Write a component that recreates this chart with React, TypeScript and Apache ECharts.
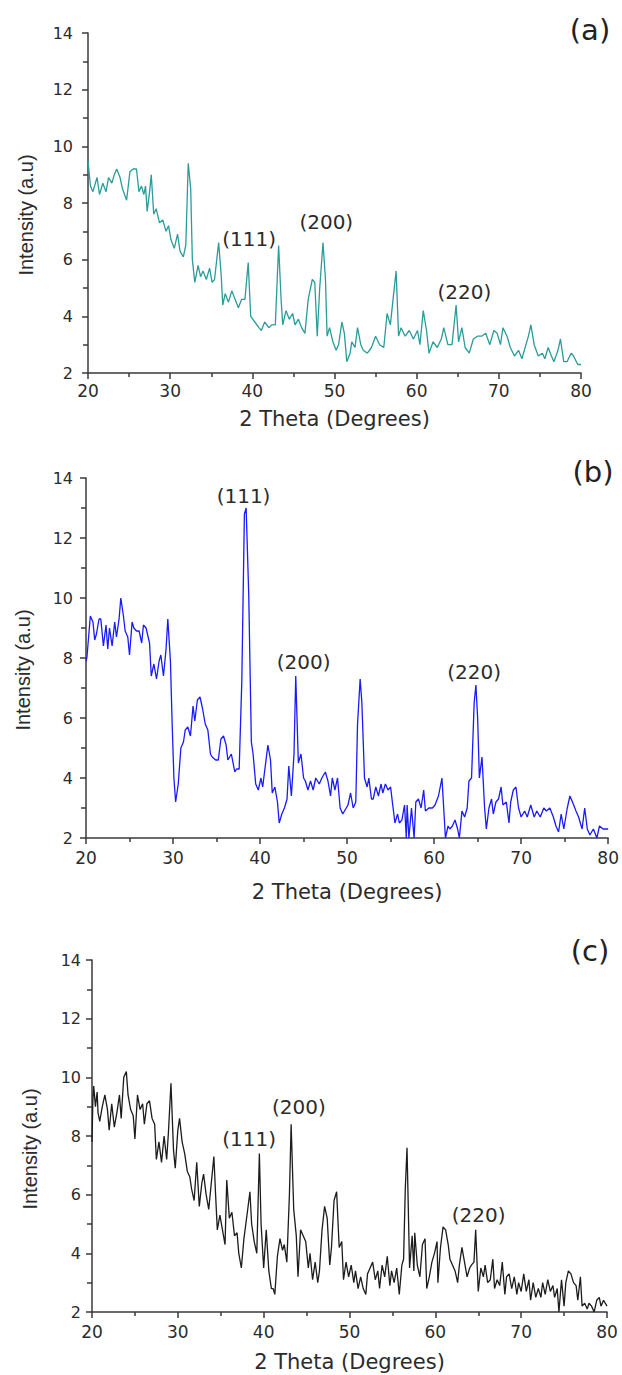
import React, { useEffect, useRef } from "react";
import * as echarts from "echarts";

// ---------- Data ----------
const thetaA = [20.0,20.3,20.6,21.1,21.4,21.8,22.2,22.5,22.9,23.2,23.5,23.9,24.2,24.7,25.1,25.5,25.9,26.2,26.5,26.8,27.0,27.2,27.5,27.7,28.0,28.3,28.7,29.1,29.5,29.8,30.1,30.5,30.9,31.2,31.6,31.9,32.2,32.5,32.7,33.0,33.4,33.7,34.0,34.4,34.8,35.1,35.4,35.9,36.2,36.4,36.7,37.1,37.5,37.9,38.3,38.7,39.1,39.5,39.8,40.3,40.8,41.1,41.5,42.0,42.4,42.8,43.2,43.5,43.7,44.1,44.5,44.9,45.2,45.6,46.0,46.4,46.8,47.3,47.6,47.9,48.2,48.6,48.9,49.1,49.4,49.8,50.2,50.5,50.9,51.2,51.5,51.9,52.1,52.5,52.8,53.2,53.5,54.0,54.5,55.0,55.5,56.0,56.4,56.8,57.2,57.5,57.8,58.1,58.6,59.1,59.6,60.1,60.4,60.8,61.2,61.5,62.0,62.5,63.0,63.3,63.8,64.3,64.8,65.1,65.5,65.9,66.4,66.9,67.4,67.9,68.4,68.9,69.4,69.8,70.2,70.5,71.0,71.4,71.9,72.4,72.8,73.2,73.6,73.9,74.3,74.8,75.3,75.6,76.0,76.4,76.7,77.2,77.5,77.9,78.3,78.8,79.1,79.6,80.0];
const intensityA = [9.5,8.6,8.4,8.9,8.3,8.7,8.4,8.9,8.7,9.0,9.2,8.9,8.5,8.1,9.1,9.2,9.2,8.4,8.6,8.3,8.6,7.7,8.4,9.0,7.6,7.8,7.3,7.4,7.0,7.2,6.7,6.4,6.9,6.3,6.1,6.5,9.4,8.5,6.0,5.2,5.8,5.4,5.6,5.3,5.7,5.2,5.3,6.6,5.5,4.4,4.8,4.5,4.9,4.6,4.3,4.6,4.6,5.9,4.0,3.8,3.6,3.5,3.8,3.6,3.7,3.7,6.5,4.6,3.7,4.2,3.9,4.1,3.7,3.9,3.6,3.4,4.6,5.3,5.2,3.3,5.0,6.6,5.3,3.3,3.6,3.1,2.8,3.0,3.8,3.4,2.4,2.7,3.1,2.9,3.6,3.0,2.8,2.7,2.9,3.3,3.0,2.9,4.1,3.7,4.8,5.6,3.3,3.6,3.3,3.5,3.2,3.5,3.0,4.2,3.5,2.7,3.1,2.9,3.2,3.6,3.0,3.0,4.4,3.1,3.6,2.9,2.7,3.2,3.3,3.3,3.4,3.0,3.5,3.4,3.0,3.6,3.3,2.9,2.6,2.8,2.5,2.9,3.3,3.7,3.0,2.6,2.7,2.5,2.9,2.6,2.4,2.8,3.2,2.4,2.4,2.7,2.6,2.3,2.3];

const thetaB = [20.0,20.1,20.5,20.8,21.0,21.2,21.5,21.7,22.0,22.3,22.5,22.7,23.0,23.3,23.5,23.8,24.0,24.3,24.5,24.8,25.0,25.3,25.5,25.8,26.1,26.4,26.6,26.9,27.3,27.5,27.8,28.1,28.4,28.6,28.9,29.2,29.4,29.7,29.9,30.1,30.3,30.6,30.9,31.2,31.4,31.7,32.0,32.3,32.5,32.8,33.1,33.4,33.7,34.0,34.3,34.5,34.9,35.2,35.5,35.8,36.1,36.3,36.7,37.1,37.3,37.6,37.9,38.2,38.4,38.7,39.0,39.2,39.5,39.8,40.1,40.3,40.6,40.9,41.2,41.4,41.7,42.0,42.2,42.5,42.8,43.1,43.3,43.6,43.9,44.1,44.4,44.7,45.0,45.2,45.5,45.8,46.1,46.4,46.8,47.1,47.5,47.8,48.1,48.3,48.6,48.9,49.2,49.5,49.9,50.1,50.4,50.7,51.0,51.2,51.5,51.7,52.0,52.3,52.5,52.8,53.0,53.3,53.6,53.9,54.1,54.4,54.7,55.0,55.2,55.5,55.8,56.0,56.3,56.6,56.8,56.9,57.1,57.4,57.7,57.9,58.2,58.5,58.8,59.0,59.4,59.8,60.1,60.5,60.9,61.1,61.3,61.6,61.8,62.1,62.4,62.7,62.9,63.2,63.5,63.8,64.0,64.3,64.6,64.8,65.0,65.2,65.5,65.8,66.0,66.3,66.6,66.8,67.1,67.4,67.7,67.9,68.3,68.6,68.8,69.1,69.4,69.7,70.0,70.4,70.7,71.1,71.5,71.8,72.2,72.6,72.9,73.3,73.7,74.0,74.3,74.6,74.9,75.3,75.6,75.9,76.3,76.6,77.0,77.3,77.6,77.9,78.3,78.7,79.0,79.4,79.7,80.0];
const intensityB = [7.9,8.0,9.4,9.2,8.6,8.8,9.3,9.3,8.4,9.1,8.3,9.0,8.4,9.2,8.7,9.3,10.0,9.4,8.9,8.7,8.1,9.2,9.0,8.9,8.9,8.5,9.1,9.0,8.5,7.4,7.8,7.3,7.9,8.1,7.4,8.3,9.3,7.9,5.8,4.0,3.2,3.8,5.0,5.2,5.6,5.7,5.4,6.4,5.9,6.6,6.7,6.3,5.8,5.6,4.8,4.7,4.6,4.6,5.3,5.4,5.1,4.6,4.8,4.2,4.3,4.3,7.2,12.8,13.0,10.1,5.2,4.8,3.8,3.6,4.0,3.7,4.4,5.1,4.6,3.5,3.7,3.2,2.5,2.8,3.0,3.3,4.4,3.4,4.8,7.4,4.5,4.8,4.0,3.9,3.6,3.9,3.6,4.0,3.8,4.0,4.2,3.9,3.4,4.0,3.6,4.0,3.0,2.8,3.0,3.1,3.5,3.0,3.2,5.8,7.3,6.5,4.0,3.7,4.0,3.3,3.3,3.7,3.4,3.8,3.5,3.8,3.6,3.7,3.2,2.5,2.8,2.5,2.6,3.1,2.0,3.1,2.0,3.0,2.0,3.2,3.3,3.0,3.6,2.9,3.0,3.0,3.1,3.4,4.0,3.0,2.0,2.4,2.3,2.4,2.6,2.3,2.0,2.9,2.7,3.0,3.9,4.0,6.5,7.1,6.0,4.0,4.7,3.0,2.3,3.0,3.3,2.8,3.2,3.3,3.7,3.1,3.2,2.5,3.2,3.6,3.7,3.0,2.7,2.9,2.7,3.1,2.7,2.9,2.7,3.0,2.9,3.0,2.7,2.4,2.2,2.8,2.3,3.0,3.4,3.2,2.9,2.7,2.3,3.0,2.3,2.1,2.3,2.0,2.4,2.3,2.3,2.3];

const thetaC = [20.0,20.1,20.2,20.4,20.6,20.7,20.9,21.2,21.5,21.8,22.0,22.3,22.6,22.9,23.2,23.4,23.7,24.0,24.2,24.5,24.8,25.0,25.3,25.6,25.9,26.1,26.4,26.7,27.0,27.3,27.5,27.8,28.1,28.4,28.7,28.9,29.2,29.5,29.7,30.0,30.2,30.5,30.8,31.1,31.4,31.6,31.9,32.2,32.5,32.8,33.0,33.3,33.6,33.9,34.2,34.4,34.6,34.9,35.2,35.5,35.7,36.0,36.3,36.6,36.9,37.1,37.4,37.7,38.1,38.4,38.6,38.9,39.2,39.5,39.7,40.0,40.3,40.6,40.9,41.1,41.3,41.6,41.9,42.2,42.4,42.7,43.0,43.2,43.5,43.8,44.0,44.3,44.6,44.9,45.2,45.4,45.7,46.0,46.3,46.5,46.8,47.1,47.4,47.7,47.9,48.2,48.5,48.8,49.1,49.3,49.6,49.9,50.2,50.5,50.7,51.0,51.3,51.6,51.9,52.1,52.4,52.7,53.0,53.3,53.5,53.8,54.1,54.4,54.7,54.9,55.2,55.5,55.8,56.1,56.3,56.5,56.7,57.0,57.3,57.5,57.6,57.9,58.2,58.5,58.8,59.0,59.3,59.6,59.9,60.2,60.3,60.6,60.9,61.2,61.5,61.7,62.0,62.3,62.6,62.8,63.1,63.4,63.7,64.0,64.2,64.5,64.7,65.0,65.3,65.6,65.8,66.1,66.4,66.7,66.9,67.2,67.5,67.8,68.1,68.3,68.6,68.9,69.2,69.5,69.7,70.0,70.3,70.6,70.9,71.1,71.4,71.7,72.0,72.3,72.5,72.8,73.1,73.4,73.7,73.9,74.2,74.4,74.7,75.0,75.2,75.5,75.8,76.1,76.4,76.6,76.9,77.1,77.4,77.7,77.9,78.2,78.5,78.8,79.1,79.3,79.6,80.0];
const intensityC = [7.8,9.2,9.7,9.0,9.5,8.8,8.5,9.0,9.4,8.9,8.2,9.1,8.3,8.8,9.4,8.6,10.0,10.2,9.4,8.9,8.7,7.9,9.4,8.9,9.1,8.4,9.1,9.2,8.6,8.4,7.2,7.8,7.1,8.0,7.2,8.1,9.8,7.5,6.9,8.2,8.6,7.8,7.4,6.8,6.6,6.2,5.8,7.1,5.6,6.4,6.7,6.0,5.5,6.4,7.3,6.0,4.8,5.3,4.8,4.3,6.5,5.2,5.4,4.6,4.7,4.0,3.5,4.5,5.4,6.1,5.0,4.4,4.0,7.4,5.0,3.5,4.8,3.4,2.8,2.8,2.6,3.9,4.5,4.1,4.3,3.7,6.0,8.4,5.5,4.6,3.2,4.8,4.6,4.4,3.5,4.0,3.1,3.7,3.0,3.4,4.8,5.6,5.2,3.6,4.2,5.8,6.1,4.2,4.4,3.1,3.7,3.2,3.6,3.0,3.4,2.8,3.2,2.8,2.6,3.3,3.5,3.7,3.1,3.4,2.8,3.6,3.2,3.9,2.9,3.4,3.0,3.5,2.6,3.6,3.8,6.2,7.6,3.5,4.6,3.4,4.7,3.6,3.2,4.3,4.5,2.8,3.2,3.7,4.0,4.4,3.0,4.2,4.9,4.8,4.3,3.8,3.6,3.4,3.0,3.6,4.2,3.7,3.2,3.5,3.6,3.7,4.8,2.7,3.5,3.2,3.6,3.0,3.1,3.8,2.8,3.1,2.9,3.7,2.6,3.2,3.3,2.8,3.2,2.6,3.0,2.7,3.3,2.7,3.1,2.4,3.0,2.5,2.8,2.5,3.0,2.6,3.1,2.7,2.9,2.5,2.8,2.0,3.1,2.2,3.0,3.4,3.3,3.0,2.9,2.4,3.2,2.2,2.3,2.1,2.3,2.2,2.0,2.4,2.5,2.2,2.4,2.2];

const xTicks = [20, 30, 40, 50, 60, 70, 80];
const yTicks = [2, 4, 6, 8, 10, 12, 14];

const panelLetters = ["(a)", "(b)", "(c)"];
const peakNames = ["(111)", "(200)", "(220)"];
// label anchor positions (theta, intensity) for each panel's peak annotations
const peakThetaA = [39.6, 49.0, 65.8];
const peakIntA = [6.73, 7.33, 4.86];
const peakThetaB = [38.1, 45.0, 64.6];
const peakIntB = [13.39, 7.87, 7.53];
const peakThetaC = [38.3, 44.1, 65.05];
const peakIntC = [7.9, 9.0, 5.29];

const xName = "2 Theta (Degrees)";
const yName = "Intensity (a.u)";

const zip = (a: number[], b: number[]) => a.map((v, i) => [v, b[i]]);

export default function App() {
  const ref = useRef<HTMLDivElement>(null);

  useEffect(() => {
    document.body.style.margin = "0";
    if (!ref.current) return;
    const chart = echarts.init(ref.current, undefined, { renderer: "svg" });

    const textColor = "#2b2b2b";
    const axisColor = "#3a3a3a";
    const hFont = "DejaVu Sans";

    const grids = [
      { left: 88, right: 41, top: 33, height: 340 },
      { left: 86, right: 8, top: 478, height: 360 },
      { left: 92, right: 15, top: 960, height: 352 },
    ];
    const xNameGaps = [35, 43, 39];
    const xLabelMargins = [9, 11, 11];
    const yLabelMargins = [15, 13, 11];
    const colors = ["#2a9c9a", "#1a1aff", "#1c1c1c"];
    const seriesData = [zip(thetaA, intensityA), zip(thetaB, intensityB), zip(thetaC, intensityC)];
    const peaks = [zip(peakThetaA, peakIntA), zip(peakThetaB, peakIntB), zip(peakThetaC, peakIntC)];

    const xAxis = grids.map((_, i) => ({
      type: "value",
      gridIndex: i,
      min: xTicks[0],
      max: xTicks[xTicks.length - 1],
      interval: xTicks[1] - xTicks[0],
      name: xName,
      nameLocation: "middle",
      nameGap: xNameGaps[i],
      nameTextStyle: { fontSize: 21, color: textColor, fontFamily: hFont },
      axisLine: { show: true, lineStyle: { color: axisColor, width: 1.5 } },
      axisTick: { show: true, inside: false, length: 6, lineStyle: { color: axisColor, width: 1.5 } },
      minorTick: { show: true, splitNumber: 2, length: 4, lineStyle: { color: axisColor, width: 1.5 } },
      splitLine: { show: false },
      axisLabel: { fontSize: 17, color: textColor, margin: xLabelMargins[i], fontFamily: hFont, showMaxLabel: true, showMinLabel: true },
    }));

    const yAxis = grids.map((_, i) => ({
      type: "value",
      gridIndex: i,
      min: yTicks[0],
      max: yTicks[yTicks.length - 1],
      interval: yTicks[1] - yTicks[0],
      axisLine: { show: true, lineStyle: { color: axisColor, width: 1.5 } },
      axisTick: { show: true, inside: false, length: 6, lineStyle: { color: axisColor, width: 1.5 } },
      minorTick: { show: true, splitNumber: 2, length: 5, lineStyle: { color: axisColor, width: 1.5 } },
      splitLine: { show: false },
      axisLabel: { fontSize: 16, color: textColor, margin: yLabelMargins[i], fontFamily: hFont },
    }));

    const series = grids.map((_, i) => ({
      type: "line",
      xAxisIndex: i,
      yAxisIndex: i,
      data: seriesData[i],
      showSymbol: false,
      symbol: "none",
      lineStyle: { color: colors[i], width: 1.3 },
      markPoint: {
        symbol: "circle",
        symbolSize: 1,
        itemStyle: { color: "rgba(0,0,0,0)" },
        label: { show: true, position: "inside", fontSize: 20, color: textColor, fontFamily: hFont, formatter: "{b}" },
        data: peaks[i].map((c, k) => ({ name: peakNames[k], coord: c })),
      },
    }));

    const yNamePos = [
      [26, 215],
      [23, 670],
      [30, 1149],
    ];
    const letterPos = [
      [590, 30],
      [593, 472],
      [590, 951],
    ];

    const graphic: any[] = [];
    yNamePos.forEach((p) => {
      graphic.push({
        type: "text",
        x: p[0],
        y: p[1],
        rotation: Math.PI / 2,
        style: {
          text: yName,
          fontSize: 20,
          fontFamily: "Liberation Sans",
          fill: textColor,
          textAlign: "center",
          textVerticalAlign: "middle",
          align: "center",
          verticalAlign: "middle",
        },
      });
    });
    letterPos.forEach((p, i) => {
      graphic.push({
        type: "text",
        x: p[0],
        y: p[1],
        style: {
          text: panelLetters[i],
          fontSize: 29,
          fontFamily: hFont,
          fill: "#222",
          textAlign: "center",
          textVerticalAlign: "middle",
          align: "center",
          verticalAlign: "middle",
        },
      });
    });

    chart.setOption({
      animation: false,
      backgroundColor: "#ffffff",
      grid: grids,
      xAxis,
      yAxis,
      series,
      graphic,
    } as any);

    return () => chart.dispose();
  }, []);

  return <div ref={ref} style={{ width: 622, height: 1375 }} />;
}
